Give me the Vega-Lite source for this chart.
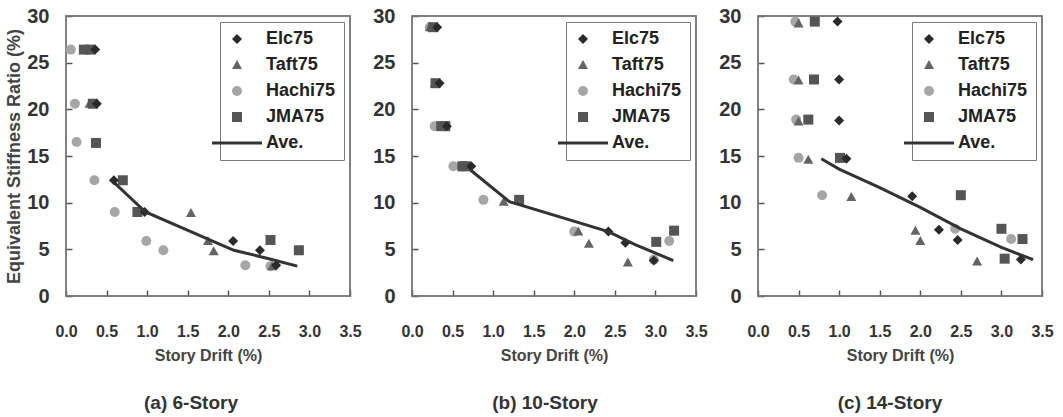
{
  "$schema": "https://vega.github.io/schema/vega-lite/v6.json",
  "background": "#ffffff",
  "padding": 5,
  "datasets": {
    "frame": [{"x0": 0, "x1": 3.5, "y0": 0, "y1": 30}],
    "a_pts": [
      {"series": "Hachi75", "drift": 0.06, "ratio": 26.4},
      {"series": "Hachi75", "drift": 0.11, "ratio": 20.6},
      {"series": "Hachi75", "drift": 0.13, "ratio": 16.5},
      {"series": "Hachi75", "drift": 0.35, "ratio": 12.4},
      {"series": "Hachi75", "drift": 0.6, "ratio": 9.0},
      {"series": "Hachi75", "drift": 0.99, "ratio": 5.9},
      {"series": "Hachi75", "drift": 1.2, "ratio": 4.9},
      {"series": "Hachi75", "drift": 2.21, "ratio": 3.3},
      {"series": "Hachi75", "drift": 2.52, "ratio": 3.2},
      {"series": "Taft75", "drift": 0.29, "ratio": 20.6},
      {"series": "Taft75", "drift": 1.54, "ratio": 8.9},
      {"series": "Taft75", "drift": 1.75, "ratio": 5.9},
      {"series": "Taft75", "drift": 1.82, "ratio": 4.8},
      {"series": "Taft75", "drift": 2.54, "ratio": 3.2},
      {"series": "JMA75", "drift": 0.22, "ratio": 26.4},
      {"series": "JMA75", "drift": 0.3, "ratio": 26.4},
      {"series": "JMA75", "drift": 0.33, "ratio": 20.6},
      {"series": "JMA75", "drift": 0.37, "ratio": 16.4},
      {"series": "JMA75", "drift": 0.7, "ratio": 12.4},
      {"series": "JMA75", "drift": 0.88, "ratio": 9.0},
      {"series": "JMA75", "drift": 2.52, "ratio": 6.0},
      {"series": "JMA75", "drift": 2.87, "ratio": 4.9},
      {"series": "Elc75", "drift": 0.36, "ratio": 26.4},
      {"series": "Elc75", "drift": 0.38, "ratio": 20.6},
      {"series": "Elc75", "drift": 0.59, "ratio": 12.4},
      {"series": "Elc75", "drift": 0.97, "ratio": 9.0},
      {"series": "Elc75", "drift": 2.06, "ratio": 5.9},
      {"series": "Elc75", "drift": 2.39, "ratio": 4.9},
      {"series": "Elc75", "drift": 2.59, "ratio": 3.3}
    ],
    "a_ave": [
      {"drift": 0.6, "ratio": 12.1},
      {"drift": 0.98, "ratio": 9.0},
      {"drift": 1.75, "ratio": 6.1},
      {"drift": 2.07, "ratio": 4.9},
      {"drift": 2.5, "ratio": 4.0},
      {"drift": 2.85, "ratio": 3.2}
    ],
    "b_pts": [
      {"series": "Hachi75", "drift": 0.22, "ratio": 28.8},
      {"series": "Hachi75", "drift": 0.28, "ratio": 18.2},
      {"series": "Hachi75", "drift": 0.51, "ratio": 13.9},
      {"series": "Hachi75", "drift": 0.88, "ratio": 10.3},
      {"series": "Hachi75", "drift": 2.0, "ratio": 6.9},
      {"series": "Hachi75", "drift": 2.98, "ratio": 3.9},
      {"series": "Hachi75", "drift": 3.17, "ratio": 5.9},
      {"series": "Taft75", "drift": 0.22, "ratio": 28.8},
      {"series": "Taft75", "drift": 0.28, "ratio": 22.8},
      {"series": "Taft75", "drift": 1.13, "ratio": 10.1},
      {"series": "Taft75", "drift": 2.05, "ratio": 6.9},
      {"series": "Taft75", "drift": 2.18, "ratio": 5.6},
      {"series": "Taft75", "drift": 2.66, "ratio": 3.6},
      {"series": "JMA75", "drift": 0.26, "ratio": 28.8},
      {"series": "JMA75", "drift": 0.29, "ratio": 22.8},
      {"series": "JMA75", "drift": 0.36, "ratio": 18.2},
      {"series": "JMA75", "drift": 0.41, "ratio": 18.2},
      {"series": "JMA75", "drift": 0.62, "ratio": 13.9},
      {"series": "JMA75", "drift": 0.66, "ratio": 13.9},
      {"series": "JMA75", "drift": 1.32, "ratio": 10.3},
      {"series": "JMA75", "drift": 3.01, "ratio": 5.8},
      {"series": "JMA75", "drift": 3.23, "ratio": 7.0},
      {"series": "Elc75", "drift": 0.31, "ratio": 28.8},
      {"series": "Elc75", "drift": 0.34, "ratio": 22.8},
      {"series": "Elc75", "drift": 0.43, "ratio": 18.2},
      {"series": "Elc75", "drift": 0.73, "ratio": 13.9},
      {"series": "Elc75", "drift": 2.42, "ratio": 6.9},
      {"series": "Elc75", "drift": 2.63, "ratio": 5.7},
      {"series": "Elc75", "drift": 2.98, "ratio": 3.8}
    ],
    "b_ave": [
      {"drift": 0.72, "ratio": 13.5},
      {"drift": 1.2, "ratio": 10.1},
      {"drift": 2.42, "ratio": 6.9},
      {"drift": 2.75, "ratio": 5.5},
      {"drift": 3.22, "ratio": 3.8}
    ],
    "c_pts": [
      {"series": "Hachi75", "drift": 0.46, "ratio": 29.4},
      {"series": "Hachi75", "drift": 0.44, "ratio": 23.2},
      {"series": "Hachi75", "drift": 0.47, "ratio": 18.9},
      {"series": "Hachi75", "drift": 0.5, "ratio": 14.8},
      {"series": "Hachi75", "drift": 0.79, "ratio": 10.8},
      {"series": "Hachi75", "drift": 2.43, "ratio": 7.2},
      {"series": "Hachi75", "drift": 3.12, "ratio": 6.1},
      {"series": "Taft75", "drift": 0.5, "ratio": 29.2},
      {"series": "Taft75", "drift": 0.5, "ratio": 23.1},
      {"series": "Taft75", "drift": 0.5, "ratio": 18.7},
      {"series": "Taft75", "drift": 0.62, "ratio": 14.6},
      {"series": "Taft75", "drift": 1.15, "ratio": 10.6},
      {"series": "Taft75", "drift": 1.94, "ratio": 7.0},
      {"series": "Taft75", "drift": 2.0, "ratio": 5.9},
      {"series": "Taft75", "drift": 2.7, "ratio": 3.7},
      {"series": "JMA75", "drift": 0.7, "ratio": 29.4},
      {"series": "JMA75", "drift": 0.69, "ratio": 23.2},
      {"series": "JMA75", "drift": 0.62, "ratio": 18.9},
      {"series": "JMA75", "drift": 1.01, "ratio": 14.8},
      {"series": "JMA75", "drift": 2.5, "ratio": 10.8},
      {"series": "JMA75", "drift": 3.0, "ratio": 7.2},
      {"series": "JMA75", "drift": 3.04, "ratio": 4.0},
      {"series": "JMA75", "drift": 3.26, "ratio": 6.1},
      {"series": "Elc75", "drift": 0.98, "ratio": 29.4},
      {"series": "Elc75", "drift": 1.0, "ratio": 23.2},
      {"series": "Elc75", "drift": 1.0, "ratio": 18.8},
      {"series": "Elc75", "drift": 1.09, "ratio": 14.7},
      {"series": "Elc75", "drift": 1.9, "ratio": 10.7},
      {"series": "Elc75", "drift": 2.23, "ratio": 7.1},
      {"series": "Elc75", "drift": 2.46, "ratio": 6.0},
      {"series": "Elc75", "drift": 3.24, "ratio": 3.9}
    ],
    "c_ave": [
      {"drift": 0.78, "ratio": 14.7},
      {"drift": 1.0, "ratio": 13.6},
      {"drift": 1.5, "ratio": 11.6},
      {"drift": 2.0, "ratio": 9.5},
      {"drift": 2.5, "ratio": 7.2},
      {"drift": 3.0, "ratio": 5.2},
      {"drift": 3.39, "ratio": 3.9}
    ]
  },
  "spacing": 10,
  "resolve": {
    "scale": {"color": "independent", "shape": "independent"},
    "legend": {"color": "independent", "shape": "independent"}
  },
  "hconcat": [
    {
      "width": 284,
      "height": 280,
      "view": {"stroke": "#7a7a7a", "strokeWidth": 1.5},
      "title": {"text": "(a) 6-Story", "orient": "bottom", "anchor": "middle", "frame": "group", "dx": -17, "offset": 31, "font": "Liberation Sans", "fontSize": 19, "fontWeight": "bold", "color": "#333333"},
      "layer": [
        {
          "data": {"name": "frame"},
          "mark": {"type": "rect", "filled": false, "color": "#7a7a7a", "strokeWidth": 1.5},
          "encoding": {
            "x": {"field": "x0", "type": "quantitative", "scale": {"domain": [0, 3.5], "nice": false}, "axis": {"title": "Story Drift (%)", "values": [0, 0.5, 1, 1.5, 2, 2.5, 3, 3.5], "format": ".1f", "grid": false, "domain": false, "tickColor": "#555555", "tickSize": -6, "tickWidth": 1.5, "labelFlush": false, "labelOverlap": false, "labelColor": "#333333", "labelFont": "Liberation Sans", "labelFontWeight": "bold", "labelFontSize": 16, "labelPadding": 33, "titleColor": "#444444", "titleFont": "Liberation Sans", "titleFontWeight": "bold", "titleFontSize": 16, "titlePadding": 8}},
            "x2": {"field": "x1"},
            "y": {"field": "y0", "type": "quantitative", "scale": {"domain": [0, 30], "nice": false}, "axis": {"title": "Equivalent Stiffness Ratio (%)", "values": [0, 5, 10, 15, 20, 25, 30], "grid": false, "domain": false, "tickColor": "#555555", "tickSize": -6, "tickWidth": 1.5, "labelFlush": false, "labelOverlap": false, "labelColor": "#333333", "labelFont": "Liberation Sans", "labelFontWeight": "bold", "labelFontSize": 20, "labelPadding": 23, "titleColor": "#444444", "titleFont": "Liberation Sans", "titleFontWeight": "bold", "titleFontSize": 18, "titlePadding": 3}},
            "y2": {"field": "y1"}
          }
        },
        {
          "data": {"name": "a_pts"},
          "mark": {"type": "point", "filled": true, "size": 100, "opacity": 1},
          "encoding": {
            "x": {"field": "drift", "type": "quantitative"},
            "y": {"field": "ratio", "type": "quantitative"},
            "color": {"field": "series", "type": "nominal", "scale": {"domain": ["Elc75", "Taft75", "Hachi75", "JMA75", "Ave."], "range": ["#2a2a2a", "#646464", "#a6a6a6", "#555555", "#333333"]}, "legend": {"title": null, "orient": "top-right", "offset": 6, "padding": 8, "strokeColor": "#7a7a7a", "fillColor": "#ffffff", "labelFont": "Liberation Sans", "labelFontSize": 18, "labelFontWeight": "bold", "labelColor": "#222222", "symbolSize": 100, "symbolOpacity": 1, "labelOffset": 20, "rowPadding": 8}},
            "shape": {"field": "series", "type": "nominal", "scale": {"domain": ["Elc75", "Taft75", "Hachi75", "JMA75", "Ave."], "range": ["M0,-1L1,0L0,1L-1,0Z", "M0,-1L1,0.8L-1,0.8Z", "circle", "square", "M-5,-0.3H5V0.3H-5Z"]}, "legend": {"title": null, "orient": "top-right", "offset": 6, "padding": 8, "strokeColor": "#7a7a7a", "fillColor": "#ffffff", "labelFont": "Liberation Sans", "labelFontSize": 18, "labelFontWeight": "bold", "labelColor": "#222222", "symbolSize": 100, "symbolOpacity": 1, "labelOffset": 20, "rowPadding": 8}}
          }
        },
        {
          "data": {"name": "a_ave"},
          "mark": {"type": "line", "color": "#333333", "strokeWidth": 3},
          "encoding": {
            "x": {"field": "drift", "type": "quantitative"},
            "y": {"field": "ratio", "type": "quantitative"}
          }
        }
      ]
    },
    {
      "width": 284,
      "height": 280,
      "view": {"stroke": "#7a7a7a", "strokeWidth": 1.5},
      "title": {"text": "(b) 10-Story", "orient": "bottom", "anchor": "middle", "frame": "group", "dx": -9, "offset": 31, "font": "Liberation Sans", "fontSize": 19, "fontWeight": "bold", "color": "#333333"},
      "layer": [
        {
          "data": {"name": "frame"},
          "mark": {"type": "rect", "filled": false, "color": "#7a7a7a", "strokeWidth": 1.5},
          "encoding": {
            "x": {"field": "x0", "type": "quantitative", "scale": {"domain": [0, 3.5], "nice": false}, "axis": {"title": "Story Drift (%)", "values": [0, 0.5, 1, 1.5, 2, 2.5, 3, 3.5], "format": ".1f", "grid": false, "domain": false, "tickColor": "#555555", "tickSize": -6, "tickWidth": 1.5, "labelFlush": false, "labelOverlap": false, "labelColor": "#333333", "labelFont": "Liberation Sans", "labelFontWeight": "bold", "labelFontSize": 16, "labelPadding": 33, "titleColor": "#444444", "titleFont": "Liberation Sans", "titleFontWeight": "bold", "titleFontSize": 16, "titlePadding": 8}},
            "x2": {"field": "x1"},
            "y": {"field": "y0", "type": "quantitative", "scale": {"domain": [0, 30], "nice": false}, "axis": {"title": null, "values": [0, 5, 10, 15, 20, 25, 30], "grid": false, "domain": false, "tickColor": "#555555", "tickSize": -6, "tickWidth": 1.5, "labelFlush": false, "labelOverlap": false, "labelColor": "#333333", "labelFont": "Liberation Sans", "labelFontWeight": "bold", "labelFontSize": 20, "labelPadding": 23}},
            "y2": {"field": "y1"}
          }
        },
        {
          "data": {"name": "b_pts"},
          "mark": {"type": "point", "filled": true, "size": 100, "opacity": 1},
          "encoding": {
            "x": {"field": "drift", "type": "quantitative"},
            "y": {"field": "ratio", "type": "quantitative"},
            "color": {"field": "series", "type": "nominal", "scale": {"domain": ["Elc75", "Taft75", "Hachi75", "JMA75", "Ave."], "range": ["#2a2a2a", "#646464", "#a6a6a6", "#555555", "#333333"]}, "legend": {"title": null, "orient": "top-right", "offset": 6, "padding": 8, "strokeColor": "#7a7a7a", "fillColor": "#ffffff", "labelFont": "Liberation Sans", "labelFontSize": 18, "labelFontWeight": "bold", "labelColor": "#222222", "symbolSize": 100, "symbolOpacity": 1, "labelOffset": 20, "rowPadding": 8}},
            "shape": {"field": "series", "type": "nominal", "scale": {"domain": ["Elc75", "Taft75", "Hachi75", "JMA75", "Ave."], "range": ["M0,-1L1,0L0,1L-1,0Z", "M0,-1L1,0.8L-1,0.8Z", "circle", "square", "M-5,-0.3H5V0.3H-5Z"]}, "legend": {"title": null, "orient": "top-right", "offset": 6, "padding": 8, "strokeColor": "#7a7a7a", "fillColor": "#ffffff", "labelFont": "Liberation Sans", "labelFontSize": 18, "labelFontWeight": "bold", "labelColor": "#222222", "symbolSize": 100, "symbolOpacity": 1, "labelOffset": 20, "rowPadding": 8}}
          }
        },
        {
          "data": {"name": "b_ave"},
          "mark": {"type": "line", "color": "#333333", "strokeWidth": 3},
          "encoding": {
            "x": {"field": "drift", "type": "quantitative"},
            "y": {"field": "ratio", "type": "quantitative"}
          }
        }
      ]
    },
    {
      "width": 284,
      "height": 280,
      "view": {"stroke": "#7a7a7a", "strokeWidth": 1.5},
      "title": {"text": "(c) 14-Story", "orient": "bottom", "anchor": "middle", "frame": "group", "dx": -10, "offset": 31, "font": "Liberation Sans", "fontSize": 19, "fontWeight": "bold", "color": "#333333"},
      "layer": [
        {
          "data": {"name": "frame"},
          "mark": {"type": "rect", "filled": false, "color": "#7a7a7a", "strokeWidth": 1.5},
          "encoding": {
            "x": {"field": "x0", "type": "quantitative", "scale": {"domain": [0, 3.5], "nice": false}, "axis": {"title": "Story Drift (%)", "values": [0, 0.5, 1, 1.5, 2, 2.5, 3, 3.5], "format": ".1f", "grid": false, "domain": false, "tickColor": "#555555", "tickSize": -6, "tickWidth": 1.5, "labelFlush": false, "labelOverlap": false, "labelColor": "#333333", "labelFont": "Liberation Sans", "labelFontWeight": "bold", "labelFontSize": 16, "labelPadding": 33, "titleColor": "#444444", "titleFont": "Liberation Sans", "titleFontWeight": "bold", "titleFontSize": 16, "titlePadding": 8}},
            "x2": {"field": "x1"},
            "y": {"field": "y0", "type": "quantitative", "scale": {"domain": [0, 30], "nice": false}, "axis": {"title": null, "values": [0, 5, 10, 15, 20, 25, 30], "grid": false, "domain": false, "tickColor": "#555555", "tickSize": -6, "tickWidth": 1.5, "labelFlush": false, "labelOverlap": false, "labelColor": "#333333", "labelFont": "Liberation Sans", "labelFontWeight": "bold", "labelFontSize": 20, "labelPadding": 23}},
            "y2": {"field": "y1"}
          }
        },
        {
          "data": {"name": "c_pts"},
          "mark": {"type": "point", "filled": true, "size": 100, "opacity": 1},
          "encoding": {
            "x": {"field": "drift", "type": "quantitative"},
            "y": {"field": "ratio", "type": "quantitative"},
            "color": {"field": "series", "type": "nominal", "scale": {"domain": ["Elc75", "Taft75", "Hachi75", "JMA75", "Ave."], "range": ["#2a2a2a", "#646464", "#a6a6a6", "#555555", "#333333"]}, "legend": {"title": null, "orient": "top-right", "offset": 6, "padding": 8, "strokeColor": "#7a7a7a", "fillColor": "#ffffff", "labelFont": "Liberation Sans", "labelFontSize": 18, "labelFontWeight": "bold", "labelColor": "#222222", "symbolSize": 100, "symbolOpacity": 1, "labelOffset": 20, "rowPadding": 8}},
            "shape": {"field": "series", "type": "nominal", "scale": {"domain": ["Elc75", "Taft75", "Hachi75", "JMA75", "Ave."], "range": ["M0,-1L1,0L0,1L-1,0Z", "M0,-1L1,0.8L-1,0.8Z", "circle", "square", "M-5,-0.3H5V0.3H-5Z"]}, "legend": {"title": null, "orient": "top-right", "offset": 6, "padding": 8, "strokeColor": "#7a7a7a", "fillColor": "#ffffff", "labelFont": "Liberation Sans", "labelFontSize": 18, "labelFontWeight": "bold", "labelColor": "#222222", "symbolSize": 100, "symbolOpacity": 1, "labelOffset": 20, "rowPadding": 8}}
          }
        },
        {
          "data": {"name": "c_ave"},
          "mark": {"type": "line", "color": "#333333", "strokeWidth": 3},
          "encoding": {
            "x": {"field": "drift", "type": "quantitative"},
            "y": {"field": "ratio", "type": "quantitative"}
          }
        }
      ]
    }
  ]
}
